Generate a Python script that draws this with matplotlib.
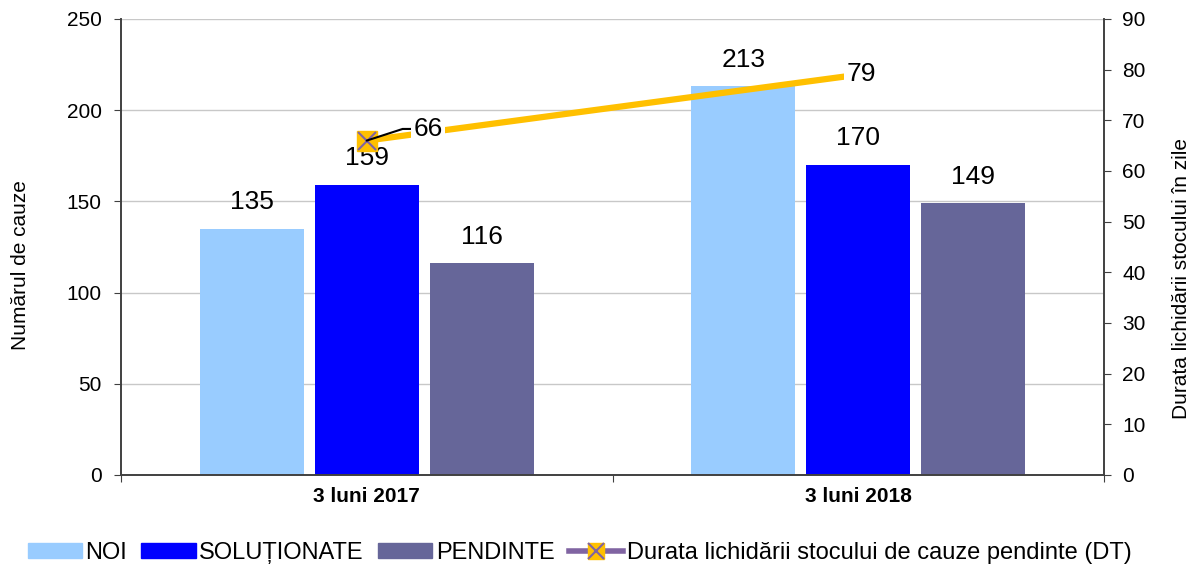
import matplotlib
matplotlib.use("Agg")
import matplotlib.pyplot as plt
from matplotlib.lines import Line2D
from matplotlib.patches import Patch
from matplotlib.legend_handler import HandlerTuple
import numpy as np

categories = ["3 luni 2017", "3 luni 2018"]
noi = [135, 213]
solutionate = [159, 170]
pendinte = [116, 149]
durata = [66, 79]

plt.rcParams['font.family'] = ['Liberation Sans', 'DejaVu Sans']

fig = plt.figure(figsize=(11.9, 5.69), dpi=100)
ax = fig.add_axes([121/1190, 1-475/569, 983/1190, 456/569])
ax2 = ax.twinx()

x = np.arange(len(categories))
w = 0.212
off = 0.234
c_noi, c_sol, c_pen, c_line = "#99CCFF", "#0000FF", "#666699", "#FFC000"

b1 = ax.bar(x - off, noi, w, color=c_noi, zorder=2)
b2 = ax.bar(x, solutionate, w, color=c_sol, zorder=2)
b3 = ax.bar(x + off, pendinte, w, color=c_pen, zorder=2)

for bars, vals in ((b1, noi), (b2, solutionate), (b3, pendinte)):
    for r, v in zip(bars, vals):
        ax.text(r.get_x() + r.get_width()/2, v + 8, str(v), ha="center", va="bottom",
                fontsize=19, zorder=5)

ax.set_xlim(-0.5, 1.5)
ax.set_ylim(0, 250)
ax.set_yticks(range(0, 251, 50))
ax.yaxis.grid(True, color="#C8C8C8", lw=1, zorder=0)
ax.set_axisbelow(True)
ax.set_xticks([-0.5, 0.5, 1.5], minor=False)
ax.set_xticklabels([])
ax.set_xticks(x, minor=True)
ax.set_xticklabels(categories, minor=True, fontweight="bold", fontsize=15)
ax.tick_params(axis="x", which="minor", length=0, pad=9)
ax.tick_params(axis="x", which="major", length=5, direction="out", color="#404040")
ax.tick_params(axis="y", labelsize=15, length=5, color="#404040", pad=9)
ax.set_ylabel("Numărul de cauze", fontsize=15)
ax.yaxis.set_label_coords(-0.093, 0.46)

ax2.set_ylim(0, 90)
ax2.set_yticks(range(0, 91, 10))
ax2.tick_params(axis="y", labelsize=15, length=5, color="#404040", pad=8)
ax2.set_ylabel("Durata lichidării stocului în zile", fontsize=15)
ax2.yaxis.set_label_coords(1.069, 0.43)

for a in (ax, ax2):
    a.spines["top"].set_visible(False)
    for s in ("left", "right", "bottom"):
        a.spines[s].set_color("#404040")
        a.spines[s].set_linewidth(1.2)

ax2.plot(x, durata, color=c_line, lw=4.5, zorder=3, solid_capstyle="butt")
ax2.plot(x[:1], durata[:1], marker="s", ms=14, mfc=c_line, mec=c_line, ls="none", zorder=4)
ax2.plot(x[:1], durata[:1], marker="x", ms=13, mec="#8064A2", mew=1.5, ls="none", zorder=5)

ax2.annotate(str(durata[0]), xy=(x[0], durata[0]), xytext=(x[0] + 0.125, durata[0] + 2.3),
             fontsize=19, va="center", ha="center",
             bbox=dict(boxstyle="square,pad=0.1", fc="white", ec="none"),
             arrowprops=dict(arrowstyle="-", color="black", lw=1.5,
                             connectionstyle="angle,angleA=0,angleB=18,rad=0",
                             shrinkA=0, shrinkB=0), zorder=6)
ax2.text(x[1] + 0.006, durata[1] + 0.1, str(durata[1]), fontsize=19, va="center", ha="center",
         zorder=6, bbox=dict(boxstyle="square,pad=0.1", fc="white", ec="none"))

handles = [Patch(color=c_noi), Patch(color=c_sol), Patch(color=c_pen),
           (Line2D([], [], color="#8064A2", lw=4, marker="s", ms=12, mfc=c_line, mec=c_line),
            Line2D([], [], color="none", marker="x", ms=11, mec="#8064A2", mew=1.5))]
labels = ["NOI", "SOLUȚIONATE", "PENDINTE", "Durata lichidării stocului de cauze pendinte (DT)"]
fig.legend(handles, labels, loc="center", bbox_to_anchor=(0.487, 1 - 553/569), ncol=4,
           frameon=False, fontsize=17, handlelength=2.3, handleheight=0.6, handletextpad=0.15,
           columnspacing=0.6, borderpad=0,
           handler_map={tuple: HandlerTuple(ndivide=1)})

fig.savefig("out.png", dpi=100)
